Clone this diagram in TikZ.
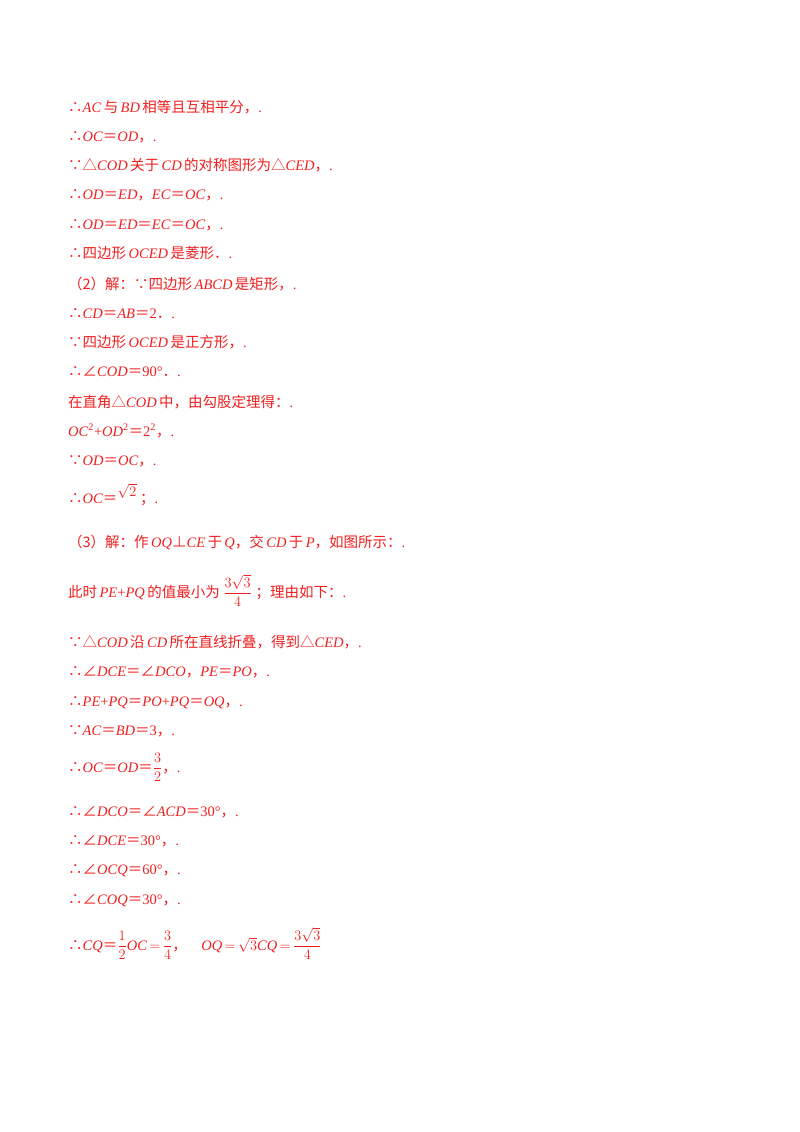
\documentclass[tikz,border=0pt]{standalone}
\usepackage{fontspec}
\setmainfont{Liberation Serif}
\newfontfamily\cjk{Noto Sans CJK SC}
\newcommand{\z}[1]{{\cjk #1}}
\newcommand{\I}[1]{\textit{#1}}
\newcommand{\fr}[2]{$\displaystyle\frac{#1}{#2}$}
\definecolor{rd}{RGB}{240,30,30}
\tikzset{ln/.style={anchor=base west,inner sep=0pt,text=rd,font=\fontsize{14.5}{17}\selectfont}}
\begin{document}
\begin{tikzpicture}[x=1pt,y=-1pt]
\useasboundingbox (0,0) rectangle (800,1132);
\node[ln] (l1) at (68,112) {\z{∴}\I{AC}\,\z{与}\,\I{BD}\,\z{相等且互相平分}\z{，}.};
\node[ln] (l2) at (68,141) {\z{∴}\I{OC}\z{＝}\I{OD}\z{，}.};
\node[ln] (l3) at (68,170) {\z{∵△}\I{COD}\,\z{关于}\,\I{CD}\,\z{的对称图形为△}\I{CED}\z{，}.};
\node[ln] (l4) at (68,199) {\z{∴}\I{OD}\z{＝}\I{ED}\z{，}\I{EC}\z{＝}\I{OC}\z{，}.};
\node[ln] (l5) at (68,229) {\z{∴}\I{OD}\z{＝}\I{ED}\z{＝}\I{EC}\z{＝}\I{OC}\z{，}.};
\node[ln] (l6) at (68,258) {\z{∴四边形}\,\I{OCED}\,\z{是菱形．}.};
\node[ln] (l7) at (68,289) {\z{（2）解：∵四边形}\,\I{ABCD}\,\z{是矩形，}.};
\node[ln] (l8) at (68,318) {\z{∴}\I{CD}\z{＝}\I{AB}\z{＝}2\z{．}.};
\node[ln] (l9) at (68,347) {\z{∵四边形}\,\I{OCED}\,\z{是正方形，}.};
\node[ln] (l10) at (68,376) {\z{∴∠}\I{COD}\z{＝}90°\z{．}.};
\node[ln] (l11) at (68,407) {\z{在直角△}\I{COD}\,\z{中，由勾股定理得：}.};
\node[ln] (l12) at (68,436) {\I{OC}\textsuperscript{2}+\I{OD}\textsuperscript{2}\z{＝}2\textsuperscript{2}\z{，}.};
\node[ln] (l13) at (68,465) {\z{∵}\I{OD}\z{＝}\I{OC}\z{，}.};
\node[ln] (l14) at (68,503) {\z{∴}\I{OC}\z{＝}\raisebox{7pt}{$\sqrt{2}$}\ \z{；}.};
\node[ln] (l15) at (68,547) {\z{（3）解：作}\,\I{OQ}\z{⊥}\I{CE}\,\z{于}\,\I{Q}\z{，交}\,\I{CD}\,\z{于}\,\I{P}\z{，如图所示：}.};
\node[ln] (l16) at (68,597) {\z{此时}\,\I{PE}+\I{PQ}\,\z{的值最小为}\ \fr{3\sqrt{3}}{4}\ \z{；理由如下：}.};
\node[ln] (l17) at (68,647) {\z{∵△}\I{COD}\,\z{沿}\,\I{CD}\,\z{所在直线折叠，得到△}\I{CED}\z{，}.};
\node[ln] (l18) at (68,676) {\z{∴∠}\I{DCE}\z{＝∠}\I{DCO}\z{，}\I{PE}\z{＝}\I{PO}\z{，}.};
\node[ln] (l19) at (68,706) {\z{∴}\I{PE}+\I{PQ}\z{＝}\I{PO}+\I{PQ}\z{＝}\I{OQ}\z{，}.};
\node[ln] (l20) at (68,735) {\z{∵}\I{AC}\z{＝}\I{BD}\z{＝}3\z{，}.};
\node[ln] (l21) at (68,772) {\z{∴}\I{OC}\z{＝}\I{OD}\z{＝}\fr{3}{2}\z{，}.};
\node[ln] (l22) at (68,816) {\z{∴∠}\I{DCO}\z{＝∠}\I{ACD}\z{＝}30°\z{，}.};
\node[ln] (l23) at (68,845) {\z{∴∠}\I{DCE}\z{＝}30°\z{，}.};
\node[ln] (l24) at (68,874) {\z{∴∠}\I{OCQ}\z{＝}60°\z{，}.};
\node[ln] (l25) at (68,904) {\z{∴∠}\I{COQ}\z{＝}30°\z{，}.};
\node[ln] (l26) at (68,950) {\z{∴}\I{CQ}\z{＝}\fr{1}{2}\I{OC}\,$=$\,\fr{3}{4}\z{，}\quad\I{OQ}\,$=$\,$\sqrt{3}$\I{CQ}\,$=$\,\fr{3\sqrt{3}}{4}};
\end{tikzpicture}
\end{document}
